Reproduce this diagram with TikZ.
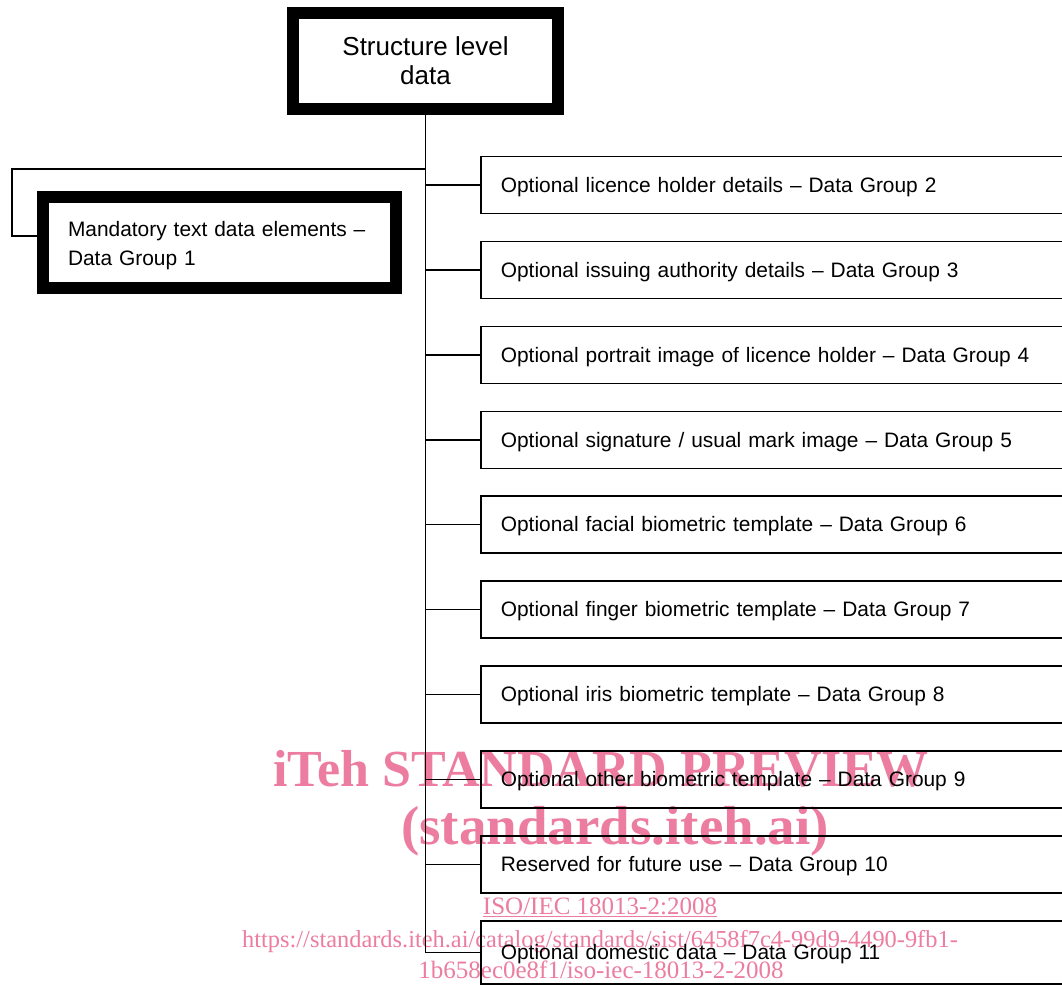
\documentclass[tikz,border=0pt]{standalone}
\usepackage{fontspec}
\setmainfont{Liberation Sans}
\newfontfamily\wmfont{Liberation Serif}
\definecolor{wmpink}{RGB}{236,125,160}
\tikzset{
  thickbox/.style={draw,line width=12.5pt,inner sep=0pt},
  groupbox/.style={draw,line width=1.7pt,anchor=west,minimum height=57pt,text width=560pt,
    text height=19pt,text depth=4.4pt,
    inner xsep=20pt,inner ysep=0pt,align=left,font=\fontsize{20.9}{29}\selectfont},
  link/.style={line width=1.7pt},
  wmark/.style={text=wmpink,anchor=base,inner sep=0pt}
}
\begin{document}
\begin{tikzpicture}[x=1pt,y=-1pt]
\useasboundingbox (0,0) rectangle (1062,985);
\clip (0,0) rectangle (1062,985);
\node[wmark,font=\wmfont\bfseries\fontsize{52}{52}\selectfont] (wm1) at (601,786) {iTeh STANDARD PREVIEW};
\node[wmark,font=\wmfont\bfseries\fontsize{55}{55}\selectfont] (wm2) at (615,844) {(standards.iteh.ai)};
\node[wmark,font=\wmfont\fontsize{25}{25}\selectfont] (wm3) at (600,914) {\underline{ISO/IEC 18013-2:2008}};
\node[wmark,font=\wmfont\fontsize{24.4}{24.4}\selectfont] (wm4) at (600,947) {https://standards.iteh.ai/catalog/standards/sist/6458f7c4-99d9-4490-9fb1-};
\node[wmark,font=\wmfont\fontsize{25}{25}\selectfont] (wm5) at (601,978) {1b658ec0e8f1/iso-iec-18013-2-2008};
\node[thickbox,minimum width=265pt,minimum height=96pt,align=center,font=\fontsize{26}{29}\selectfont] (sld) at (425.5,61) {Structure level\\data};
\node[thickbox,minimum width=353pt,minimum height=91pt,text width=303pt,text height=21.2pt,inner xsep=25pt,align=left,font=\fontsize{20.9}{29}\selectfont] (dg1) at (219.5,242.5) {\mbox{Mandatory text data elements --}\\Data Group 1};
\node[groupbox] (dg2) at (480,185) {Optional licence holder details -- Data Group 2};
\node[groupbox] (dg3) at (480,270) {Optional issuing authority details -- Data Group 3};
\node[groupbox] (dg4) at (480,355) {Optional portrait image of licence holder -- Data Group 4};
\node[groupbox] (dg5) at (480,440) {Optional signature / usual mark image -- Data Group 5};
\node[groupbox] (dg6) at (480,524.5) {Optional facial biometric template -- Data Group 6};
\node[groupbox] (dg7) at (480,609.5) {Optional finger biometric template -- Data Group 7};
\node[groupbox] (dg8) at (480,694.5) {Optional iris biometric template -- Data Group 8};
\node[groupbox] (dg9) at (480,779.5) {Optional other biometric template -- Data Group 9};
\node[groupbox] (dg10) at (480,864.5) {Reserved for future use -- Data Group 10};
\node[groupbox,minimum height=63pt] (dg11) at (480,952.5) {Optional domestic data -- Data Group 11};
\coordinate (bend) at (12,169);
\draw[link] (sld.south) -- (sld.south |- dg11.west);
\draw[link] (sld.south |- bend) -- (bend) |- ([yshift=6.5pt]dg1.west);
\draw[link] (sld.south |- dg2.west) -- (dg2.west);
\draw[link] (sld.south |- dg3.west) -- (dg3.west);
\draw[link] (sld.south |- dg4.west) -- (dg4.west);
\draw[link] (sld.south |- dg5.west) -- (dg5.west);
\draw[link] (sld.south |- dg6.west) -- (dg6.west);
\draw[link] (sld.south |- dg7.west) -- (dg7.west);
\draw[link] (sld.south |- dg8.west) -- (dg8.west);
\draw[link] (sld.south |- dg9.west) -- (dg9.west);
\draw[link] (sld.south |- dg10.west) -- (dg10.west);
\draw[link] (sld.south |- dg11.west) -- (dg11.west);
\end{tikzpicture}
\end{document}
